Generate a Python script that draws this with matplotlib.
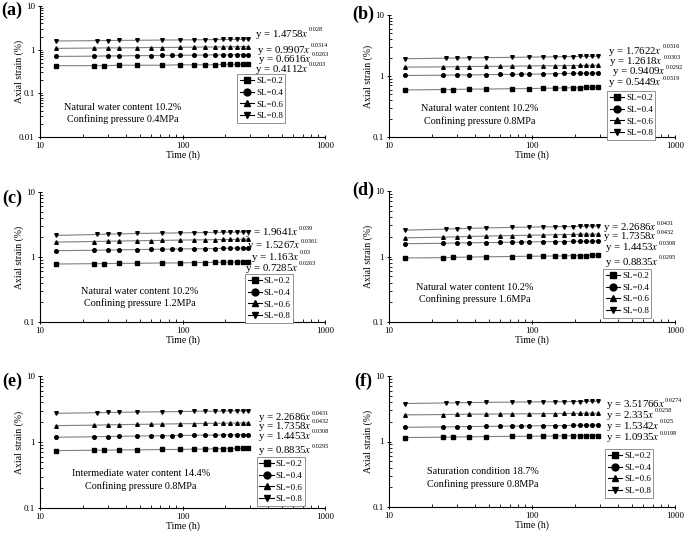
import matplotlib
matplotlib.use("Agg")
import matplotlib.pyplot as plt
from matplotlib.ticker import LogLocator, FuncFormatter, NullFormatter

plt.rcParams['font.family'] = ['Liberation Serif', 'DejaVu Serif']
plt.rcParams['mathtext.fontset'] = 'stix'

# sampling times (h) for each stress level
t02 = [13, 24, 28, 36, 48, 72, 96, 120, 144, 168, 192, 216, 240, 264, 288]
t04 = [13, 24, 30, 36, 48, 60, 72, 84, 96, 120, 144, 168, 192, 216, 240, 264, 288]
t06 = [13, 24, 30, 36, 48, 60, 72, 96, 120, 144, 168, 192, 216, 240, 264, 288]
t08 = [13, 25, 30, 36, 48, 72, 96, 120, 144, 168, 192, 216, 240, 264, 288]

# axial strain (%)
a02 = [0.43, 0.43, 0.43, 0.44, 0.44, 0.44, 0.45, 0.45, 0.45, 0.45, 0.46, 0.46, 0.46, 0.46, 0.46]
a04 = [0.70, 0.71, 0.72, 0.72, 0.73, 0.73, 0.74, 0.74, 0.74, 0.75, 0.75, 0.76, 0.76, 0.76, 0.77, 0.77, 0.77]
a06 = [1.07, 1.09, 1.10, 1.10, 1.11, 1.12, 1.12, 1.13, 1.14, 1.15, 1.15, 1.16, 1.16, 1.17, 1.17, 1.18]
a08 = [1.58, 1.61, 1.62, 1.63, 1.64, 1.66, 1.67, 1.68, 1.69, 1.70, 1.71, 1.71, 1.72, 1.72, 1.73]

b02 = [0.59, 0.60, 0.60, 0.61, 0.61, 0.62, 0.62, 0.63, 0.63, 0.64, 0.64, 0.64, 0.65, 0.65, 0.65]
b04 = [1.02, 1.03, 1.04, 1.04, 1.05, 1.06, 1.06, 1.07, 1.07, 1.08, 1.09, 1.10, 1.10, 1.11, 1.11, 1.12, 1.12]
b06 = [1.40, 1.41, 1.42, 1.43, 1.44, 1.44, 1.45, 1.46, 1.47, 1.47, 1.48, 1.48, 1.49, 1.49, 1.50, 1.50]
b08 = [1.92, 1.96, 1.97, 1.98, 2.00, 2.02, 2.04, 2.05, 2.06, 2.07, 2.08, 2.09, 2.09, 2.10, 2.10]

c02 = [0.78, 0.79, 0.79, 0.80, 0.80, 0.81, 0.81, 0.82, 0.82, 0.83, 0.83, 0.83, 0.84, 0.84, 0.84]
c04 = [1.25, 1.27, 1.28, 1.29, 1.30, 1.31, 1.32, 1.32, 1.33, 1.34, 1.34, 1.35, 1.36, 1.36, 1.37, 1.37, 1.37]
c06 = [1.70, 1.73, 1.75, 1.76, 1.78, 1.79, 1.80, 1.82, 1.83, 1.84, 1.85, 1.86, 1.86, 1.87, 1.88, 1.88]
c08 = [2.15, 2.22, 2.25, 2.27, 2.30, 2.33, 2.35, 2.37, 2.38, 2.39, 2.40, 2.41, 2.41, 2.42, 2.42]

d02 = [0.95, 0.96, 0.97, 0.98, 0.99, 1.00, 1.01, 1.01, 1.02, 1.02, 1.03, 1.03, 1.03, 1.04, 1.04]
d04 = [1.57, 1.59, 1.61, 1.62, 1.63, 1.64, 1.65, 1.66, 1.67, 1.68, 1.69, 1.69, 1.70, 1.70, 1.71, 1.71, 1.72]
d06 = [1.93, 1.97, 2.00, 2.02, 2.05, 2.07, 2.09, 2.11, 2.13, 2.15, 2.16, 2.17, 2.18, 2.19, 2.19, 2.20]
d08 = [2.52, 2.62, 2.66, 2.69, 2.73, 2.78, 2.81, 2.83, 2.85, 2.86, 2.87, 2.88, 2.89, 2.89, 2.90]

e02 = [0.74, 0.75, 0.75, 0.76, 0.76, 0.77, 0.77, 0.78, 0.78, 0.79, 0.79, 0.79, 0.80, 0.80, 0.80]
e04 = [1.18, 1.20, 1.21, 1.22, 1.23, 1.24, 1.24, 1.25, 1.26, 1.26, 1.27, 1.27, 1.28, 1.28, 1.29, 1.29, 1.29]
e06 = [1.77, 1.80, 1.82, 1.83, 1.85, 1.86, 1.87, 1.89, 1.90, 1.91, 1.92, 1.93, 1.93, 1.94, 1.94, 1.95]
e08 = [2.72, 2.78, 2.80, 2.82, 2.84, 2.87, 2.89, 2.91, 2.92, 2.93, 2.94, 2.95, 2.96, 2.96, 2.97]

f02 = [1.15, 1.16, 1.17, 1.18, 1.19, 1.20, 1.20, 1.21, 1.21, 1.22, 1.22, 1.22, 1.23, 1.23, 1.23]
f04 = [1.65, 1.67, 1.68, 1.69, 1.70, 1.71, 1.72, 1.72, 1.73, 1.74, 1.75, 1.75, 1.76, 1.77, 1.77, 1.78, 1.78]
f06 = [2.55, 2.58, 2.60, 2.61, 2.62, 2.63, 2.64, 2.65, 2.66, 2.67, 2.68, 2.68, 2.69, 2.69, 2.70, 2.70]
f08 = [3.80, 3.88, 3.91, 3.93, 3.96, 3.99, 4.01, 4.03, 4.05, 4.06, 4.07, 4.08, 4.09, 4.10, 4.10]

# fitted equations, top to bottom (coefficient, exponent)
eq_a = [("1.4758", "0.028"), ("0.9907", "0.0314"), ("0.6616", "0.0263"), ("0.4112", "0.0203")]
eq_b = [("1.7622", "0.0316"), ("1.2618", "0.0303"), ("0.9409", "0.0292"), ("0.5449", "0.0319")]
eq_c = [("1.9641", "0.039"), ("1.5267", "0.0361"), ("1.163", "0.03"), ("0.7285", "0.0263")]
eq_d = [("2.2686", "0.0431"), ("1.7358", "0.0432"), ("1.4453", "0.0308"), ("0.8835", "0.0295")]
eq_e = [("2.2686", "0.0431"), ("1.7358", "0.0432"), ("1.4453", "0.0308"), ("0.8835", "0.0295")]
eq_f = [("3.51766", "0.0274"), ("2.335", "0.0258"), ("1.5342", "0.025"), ("1.0935", "0.0198")]

notes = ["Natural water content 10.2%\nConfining pressure 0.4MPa",
         "Natural water content 10.2%\nConfining pressure 0.8MPa",
         "Natural water content 10.2%\nConfining pressure 1.2MPa",
         "Natural water content 10.2%\nConfining pressure 1.6MPa",
         "Intermediate water content 14.4%\nConfining pressure 0.8MPa",
         "Saturation condition 18.7%\nConfining pressure 0.8MPa"]

sl_labels = ["SL=0.2", "SL=0.4", "SL=0.6", "SL=0.8"]
markers = ["s", "o", "^", "v"]
times = [t02, t04, t06, t08]

W, H = 685, 536
fig = plt.figure(figsize=(W / 100, H / 100), dpi=100)

# panel layout in pixels: (left, top, right, bottom), y lower limit, ...
panels = [
    ("(a)", (40, 6, 325, 137), 0.01, [a02, a04, a06, a08], eq_a,
     [(0.754, 0.786), (0.761, 0.664), (0.765, 0.595), (0.754, 0.519)],
     (0.29, 0.179), (0.691, 0.481), (12, 10)),
    ("(b)", (389, 15, 675, 137), 0.1, [b02, b04, b06, b08], eq_b,
     [(0.766, 0.70), (0.770, 0.615), (0.778, 0.533), (0.766, 0.443)],
     (0.318, 0.18), (0.762, 0.377), (363, 14)),
    ("(c)", (40, 192, 325, 322), 0.1, [c02, c04, c06, c08], eq_c,
     [(0.719, 0.685), (0.726, 0.585), (0.740, 0.500), (0.719, 0.415)],
     (0.349, 0.188), (0.719, 0.369), (12, 198)),
    ("(d)", (389, 191, 675, 322), 0.1, [d02, d04, d06, d08], eq_d,
     [(0.748, 0.718), (0.748, 0.650), (0.755, 0.565), (0.755, 0.458)],
     (0.30, 0.218), (0.748, 0.405), (363, 190)),
    ("(e)", (40, 376, 325, 508), 0.1, [e02, e04, e06, e08], eq_e,
     [(0.765, 0.682), (0.765, 0.621), (0.765, 0.545), (0.765, 0.432)],
     (0.354, 0.212), (0.76, 0.386), (12, 381)),
    ("(f)", (389, 376, 675, 507), 0.1, [f02, f04, f06, f08], eq_f,
     [(0.757, 0.779), (0.757, 0.702), (0.757, 0.618), (0.757, 0.527)],
     (0.327, 0.221), (0.755, 0.443), (363, 381)),
]

for (tag, box, ylo, series, eqs, eq_pos, note_pos, leg_pos, tag_pos), note in zip(panels, notes):
    l, t, r, b = box
    ax = fig.add_axes([l / W, 1 - b / H, (r - l) / W, (b - t) / H])
    for tt, yy, m, lab in zip(times, series, markers, sl_labels):
        ax.plot(tt, yy, marker=m, color='0.5', lw=0.8, markersize=2.6,
                markerfacecolor='black', markeredgecolor='black', label=lab)
    ax.set_xscale('log')
    ax.set_yscale('log')
    ax.set_xlim(10, 1000)
    ax.set_ylim(ylo, 10)
    ax.spines['top'].set_visible(False)
    ax.spines['right'].set_visible(False)
    ax.spines['left'].set_linewidth(0.8)
    ax.spines['bottom'].set_linewidth(0.8)
    ax.xaxis.set_major_formatter(FuncFormatter(lambda v, p: '%g' % v))
    ax.yaxis.set_major_formatter(FuncFormatter(lambda v, p: '%g' % v))
    ax.yaxis.set_major_locator(LogLocator(base=10, numticks=10))
    ax.yaxis.set_minor_locator(LogLocator(base=10, subs=range(2, 10), numticks=20))
    ax.xaxis.set_minor_formatter(NullFormatter())
    ax.yaxis.set_minor_formatter(NullFormatter())
    ax.tick_params(which='major', direction='inout', length=3.5, width=0.7,
                   labelsize=6.5, pad=2)
    ax.tick_params(which='minor', direction='in', length=2, width=0.6)
    ax.set_xlabel('Time (h)', fontsize=7)
    ax.set_ylabel('Axial strain (%)', fontsize=7)
    ax.yaxis.set_label_coords(-0.055, 0.5)
    ax.xaxis.set_label_coords(0.5, -13.0 / (b - t))

    for (coef, ex), (ex_x, ex_y) in zip(eqs, eq_pos):
        txt = ax.text(ex_x, ex_y, 'y = %s$x$' % coef, transform=ax.transAxes,
                      fontsize=7.8, va='center', ha='left')
        ax.annotate(ex, xy=(1, 1), xycoords=txt, xytext=(0.3, -1.2),
                    textcoords='offset points', fontsize=4.5,
                    ha='left', va='center')

    ax.text(note_pos[0], note_pos[1], note, transform=ax.transAxes, fontsize=7.3,
            ha='center', va='center', multialignment='center', linespacing=1.4)

    leg = ax.legend(loc='upper left', bbox_to_anchor=leg_pos, fontsize=6.5,
                    frameon=True, fancybox=False, edgecolor='0.5', framealpha=1,
                    handlelength=1.6, handletextpad=0.2, labelspacing=0.38,
                    borderpad=0.3, borderaxespad=0, markerscale=1.9)
    leg.get_frame().set_linewidth(0.6)
    for h in leg.legend_handles:
        h.set_color('black')

    fig.text(tag_pos[0] / W, 1 - tag_pos[1] / H, tag, fontsize=13,
             fontweight='bold', ha='center', va='center')

fig.savefig('out.png', dpi=100)
